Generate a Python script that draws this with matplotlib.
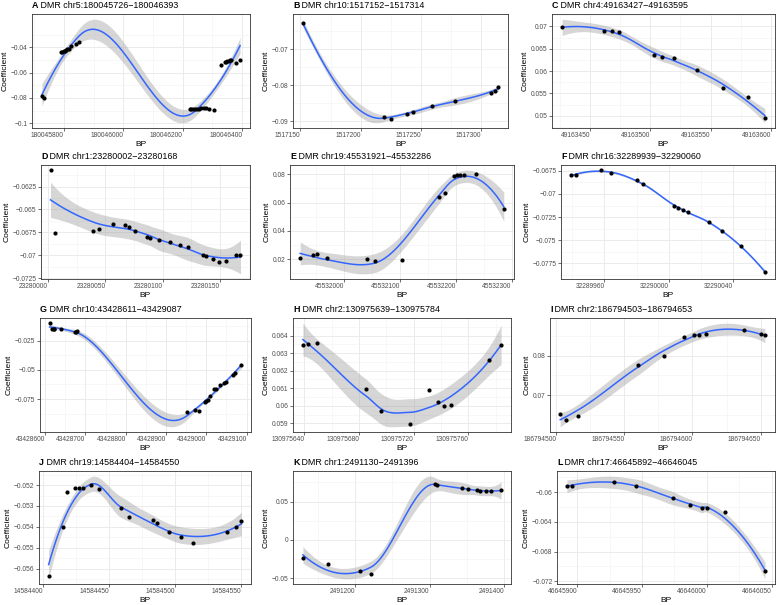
import numpy as np
import matplotlib
matplotlib.use("Agg")
import matplotlib.pyplot as plt
from matplotlib.transforms import offset_copy

plt.rcParams['font.family'] = ['Liberation Sans', 'DejaVu Sans']

# ---- data (CpG position, coefficient) ----
bp_a = [180045726, 180045732, 180045790, 180045795, 180045799, 180045804, 180045808, 180045812,
        180045817, 180045825, 180045842, 180045850, 180046223, 180046229, 180046236, 180046242,
        180046249, 180046256, 180046262, 180046271, 180046277, 180046288, 180046304, 180046330,
        180046341, 180046345, 180046349, 180046354, 180046358, 180046363, 180046379, 180046393]
coef_a = [-0.0788, -0.0798, -0.0441, -0.0436, -0.0431, -0.0426, -0.0420, -0.0415,
          -0.0410, -0.0392, -0.0374, -0.0357, -0.0888, -0.0888, -0.0888, -0.0885,
          -0.0885, -0.0885, -0.0883, -0.0883, -0.0883, -0.0885, -0.0893, -0.0543,
          -0.0520, -0.0515, -0.0510, -0.0505, -0.0502, -0.0500, -0.0523, -0.0500]

bp_b = [1517152, 1517219, 1517225, 1517238, 1517243, 1517259, 1517278, 1517308, 1517311, 1517314]
coef_b = [-0.0627, -0.0888, -0.0894, -0.0881, -0.0873, -0.0858, -0.0845, -0.0821, -0.0815, -0.0806]

bp_c = [49163427, 49163462, 49163468, 49163474, 49163503, 49163510, 49163520, 49163539,
        49163560, 49163581, 49163595]
coef_c = [0.0698, 0.0691, 0.0689, 0.0687, 0.0636, 0.0631, 0.0630, 0.0602, 0.0563, 0.0542, 0.0495]

bp_d = [23280002, 23280006, 23280039, 23280044, 23280057, 23280067, 23280071, 23280076,
        23280086, 23280089, 23280097, 23280106, 23280115, 23280122, 23280135, 23280138,
        23280144, 23280149, 23280155, 23280164, 23280168]
coef_d = [-0.0607, -0.0676, -0.0673, -0.0671, -0.0666, -0.0667, -0.0669, -0.0674,
          -0.0680, -0.0681, -0.0683, -0.0686, -0.0689, -0.0691, -0.0700, -0.0701,
          -0.0704, -0.0707, -0.0706, -0.0700, -0.0700]

bp_e = [45531921, 45531944, 45531952, 45531969, 45532040, 45532055, 45532104, 45532170,
        45532180, 45532197, 45532202, 45532208, 45532214, 45532236, 45532286]
coef_e = [0.0210, 0.0227, 0.0234, 0.0210, 0.0202, 0.0186, 0.0193, 0.0641,
          0.0665, 0.0788, 0.0793, 0.0795, 0.0795, 0.0802, 0.0552]

bp_f = [32289939, 32289942, 32289958, 32289964, 32289980, 32289984, 32290003, 32290006,
        32290009, 32290012, 32290025, 32290033, 32290045, 32290060]
coef_f = [-0.06798, -0.06794, -0.06743, -0.06768, -0.06853, -0.06887, -0.07126, -0.07156,
          -0.07174, -0.07200, -0.07303, -0.07396, -0.07562, -0.07850]

bp_g = [43428611, 43428617, 43428621, 43428622, 43428640, 43428673, 43428676, 43428679,
        43428953, 43428972, 43428981, 43428997, 43429000, 43429004, 43429008, 43429020,
        43429024, 43429034, 43429044, 43429049, 43429067, 43429070, 43429087]
coef_g = [-0.0101, -0.0150, -0.0152, -0.0147, -0.0155, -0.0177, -0.0174, -0.0169,
          -0.0864, -0.0845, -0.0851, -0.0772, -0.0766, -0.0761, -0.0720, -0.0666,
          -0.0660, -0.0633, -0.0611, -0.0601, -0.0541, -0.0530, -0.0457]

bp_h = [130975639, 130975643, 130975649, 130975685, 130975696, 130975717, 130975731,
        130975738, 130975742, 130975747, 130975775, 130975784]
coef_h = [0.06344, 0.06350, 0.06360, 0.06096, 0.05969, 0.05896, 0.06090,
          0.06019, 0.05998, 0.06006, 0.06260, 0.06348]

bp_i = [186794503, 186794507, 186794516, 186794560, 186794579, 186794594, 186794601,
        186794605, 186794610, 186794638, 186794650, 186794653]
coef_i = [0.0654, 0.0637, 0.0649, 0.0777, 0.0800, 0.0846, 0.0851,
          0.0853, 0.0856, 0.0864, 0.0854, 0.0851]

bp_j = [14584404, 14584415, 14584418, 14584424, 14584427, 14584430, 14584436, 14584442,
        14584459, 14584465, 14584483, 14584486, 14584495, 14584504, 14584513, 14584539,
        14584546, 14584550]
coef_j = [-0.05634, -0.05400, -0.05235, -0.05213, -0.05213, -0.05216, -0.05198, -0.05219,
          -0.05311, -0.05353, -0.05365, -0.05382, -0.05427, -0.05448, -0.05476, -0.05427,
          -0.05402, -0.05374]

bp_k = [2491130, 2491164, 2491207, 2491221, 2491307, 2491310, 2491343, 2491351,
        2491364, 2491368, 2491376, 2491382, 2491396]
coef_k = [-0.0234, -0.0312, -0.0404, -0.0448, 0.0723, 0.0718, 0.0675, 0.0662,
          0.0644, 0.0640, 0.0640, 0.0635, 0.0644]

bp_l = [46645892, 46645896, 46645928, 46645945, 46645974, 46645987, 46645996, 46646000,
        46646014, 46646045]
coef_l = [-0.05918, -0.05913, -0.05859, -0.05918, -0.06073, -0.06169, -0.06214, -0.06219,
          -0.06269, -0.07067]

letters = ['A', 'B', 'C', 'D', 'E', 'F', 'G', 'H', 'I', 'J', 'K', 'L']
regions = ['chr5:180045726\u2212180046393', 'chr10:1517152\u22121517314',
           'chr4:49163427\u221249163595', 'chr1:23280002\u221223280168',
           'chr19:45531921\u221245532286', 'chr16:32289939\u221232290060',
           'chr10:43428611\u221243429087', 'chr2:130975639\u2212130975784',
           'chr2:186794503\u2212186794653', 'chr19:14584404\u221214584550',
           'chr1:2491130\u22122491396', 'chr17:46645892\u221246646045']

x_breaks = [[180045800, 180046000, 180046200, 180046400],
            [1517150, 1517200, 1517250, 1517300],
            [49163450, 49163500, 49163550, 49163600],
            [23280000, 23280050, 23280100, 23280150],
            [45532000, 45532100, 45532200, 45532300],
            [32289960, 32290000, 32290040],
            [43428600, 43428700, 43428800, 43428900, 43429000, 43429100],
            [130975640, 130975680, 130975720, 130975760],
            [186794500, 186794550, 186794600, 186794650],
            [14584400, 14584450, 14584500, 14584550],
            [2491200, 2491300, 2491400],
            [46645900, 46645950, 46646000, 46646050]]
y_breaks = [[-0.1, -0.08, -0.06, -0.04],
            [-0.09, -0.08, -0.07, -0.06],
            [0.05, 0.055, 0.06, 0.065, 0.07],
            [-0.0725, -0.07, -0.0675, -0.065, -0.0625],
            [0.02, 0.04, 0.06, 0.08],
            [-0.0775, -0.075, -0.0725, -0.07, -0.0675],
            [-0.075, -0.05, -0.025],
            [0.059, 0.06, 0.061, 0.062, 0.063, 0.064],
            [0.07, 0.08],
            [-0.056, -0.055, -0.054, -0.053, -0.052],
            [-0.05, 0, 0.05],
            [-0.072, -0.068, -0.064, -0.06]]

panels = [(bp_a, coef_a), (bp_b, coef_b), (bp_c, coef_c), (bp_d, coef_d),
          (bp_e, coef_e), (bp_f, coef_f), (bp_g, coef_g), (bp_h, coef_h),
          (bp_i, coef_i), (bp_j, coef_j), (bp_k, coef_k), (bp_l, coef_l)]

# panel boxes in pixels: left, top, right, bottom
boxes = [(32, 14, 250, 128), (293, 14, 508, 128), (552, 14, 775, 128),
         (41, 165, 250, 279), (290, 165, 514, 279), (561, 165, 775, 279),
         (40, 318, 251, 432), (293, 318, 511, 432), (550, 318, 775, 432),
         (39, 471, 251, 584), (293, 471, 511, 584), (557, 471, 775, 584)]


# ---- loess (degree 2, span 0.75, kd-tree + cubic interpolation like R) ----
def local_rows(u, u0, q):
    d = np.abs(u - u0)
    h = np.sort(d)[q - 1]
    w = np.clip(1 - (d / h) ** 3, 0, None) ** 3
    X = np.column_stack([np.ones_like(u), u - u0, (u - u0) ** 2])
    XtW = X.T * w
    B = np.linalg.solve(XtW @ X, XtW)
    return B[0], B[1]


def kd_vertices(u, fc):
    lo, hi = u.min(), u.max()
    mu = 0.005 * (hi - lo)
    verts = [lo - mu, hi + mu]

    def split(pts, a, b):
        if len(pts) <= fc:
            return
        m = (len(pts) + 1) // 2
        v = pts[m - 1]
        if v == a or v == b:
            return
        verts.append(v)
        split(pts[:m], a, v)
        split(pts[m:], v, b)

    split(np.sort(u), lo - mu, hi + mu)
    return np.unique(verts)


def t975(df):
    z = 1.959963985
    g1 = (z**3 + z) / 4
    g2 = (5 * z**5 + 16 * z**3 + 3 * z) / 96
    g3 = (3 * z**7 + 19 * z**5 + 17 * z**3 - 15 * z) / 384
    g4 = (79 * z**9 + 776 * z**7 + 1482 * z**5 - 1920 * z**3 - 945 * z) / 92160
    return z + g1 / df + g2 / df**2 + g3 / df**3 + g4 / df**4


def loess_smooth(x, y, span=0.75, cell=0.2, n_out=80):
    x = np.asarray(x, float)
    y = np.asarray(y, float)
    n = len(x)
    x0, sc = x.min(), x.max() - x.min()
    u = (x - x0) / sc
    q = int(np.floor(n * span))
    fc = int(np.floor(n * span * cell))
    verts = kd_vertices(u, fc)
    vals, slps = [], []
    for v in verts:
        a, b = local_rows(u, v, q)
        vals.append(a)
        slps.append(b)
    vals = np.array(vals)
    slps = np.array(slps)

    def rows(t):
        i = np.clip(np.searchsorted(verts, t, side='right') - 1, 0, len(verts) - 2)
        v0, v1 = verts[i], verts[i + 1]
        h = v1 - v0
        s = (t - v0) / h
        p0 = (1 - s) ** 2 * (1 + 2 * s)
        p1 = s ** 2 * (3 - 2 * s)
        s0 = s * (1 - s) ** 2
        s1 = -s ** 2 * (1 - s)
        return (p0[:, None] * vals[i] + p1[:, None] * vals[i + 1]
                + h[:, None] * (s0[:, None] * slps[i] + s1[:, None] * slps[i + 1]))

    L = rows(u)
    res = y - L @ y
    IL = np.eye(n) - L
    M = IL.T @ IL
    d1 = np.trace(M)
    d2 = np.trace(M @ M)
    s = np.sqrt(np.sum(res ** 2) / d1)
    tq = t975(d1 ** 2 / d2)
    grid = np.linspace(0, 1, n_out)
    Lg = rows(grid)
    fit = Lg @ y
    se = s * np.sqrt(np.sum(Lg ** 2, axis=1))
    return x0 + grid * sc, fit, fit - tq * se, fit + tq * se


def num_label(v):
    s = f"{v:.6g}"
    return s.replace('-', '\u2212')


W, H = 778, 605
fig = plt.figure(figsize=(W / 100, H / 100), dpi=100)

for k, ((bx, cy), (l, t, r, b)) in enumerate(zip(panels, boxes)):
    ax = fig.add_axes([l / W, 1 - b / H, (r - l) / W, (b - t) / H])
    gx, fit, lo, hi = loess_smooth(bx, cy)

    ax.fill_between(gx, lo, hi, color='#999999', alpha=0.4, lw=0, zorder=2)
    ax.plot(gx, fit, color='#3366FF', lw=1.1, zorder=3)
    ax.scatter(bx, cy, s=9, color='black', lw=0, zorder=4)

    xr = max(bx) - min(bx)
    ax.set_xlim(min(bx) - 0.05 * xr, max(bx) + 0.05 * xr)
    ylo = min(min(cy), lo.min())
    yhi = max(max(cy), hi.max())
    yr = yhi - ylo
    ax.set_ylim(ylo - 0.05 * yr, yhi + 0.05 * yr)

    xmin, xmax = ax.get_xlim()
    ymin, ymax = ax.get_ylim()
    xt = [v for v in x_breaks[k] if xmin <= v <= xmax]
    yt = [v for v in y_breaks[k] if ymin <= v <= ymax]
    ax.set_xticks(xt)
    ax.set_xticklabels([str(v) for v in xt], ha='right')
    ax.set_yticks(yt)
    ax.set_yticklabels([num_label(v) for v in yt])

    xs = x_breaks[k][1] - x_breaks[k][0]
    ys = y_breaks[k][1] - y_breaks[k][0]
    xm = [v + xs / 2 for v in [x_breaks[k][0] - xs] + x_breaks[k]]
    ym = [v + ys / 2 for v in [y_breaks[k][0] - ys] + y_breaks[k]]
    ax.set_xticks([v for v in xm if xmin <= v <= xmax], minor=True)
    ax.set_yticks([v for v in ym if ymin <= v <= ymax], minor=True)

    ax.grid(True, which='major', color='#EBEBEB', lw=0.7, zorder=0)
    ax.grid(True, which='minor', color='#F2F2F2', lw=0.4, zorder=0)
    ax.set_axisbelow(True)
    for sp in ax.spines.values():
        sp.set_color('#333333')
        sp.set_linewidth(0.6)
    ax.tick_params(which='major', direction='out', length=2, width=0.5, color='#333333',
                   labelsize=4.8, labelcolor='#4D4D4D', pad=1.2)
    ax.tick_params(which='minor', length=0)

    ax.set_xlabel('BP', fontsize=6, labelpad=1)
    ax.set_ylabel('Coefficient', fontsize=6.1, labelpad=1.5)

    tr = offset_copy(ax.transAxes, fig=fig, x=0, y=3, units='points')
    t1 = ax.text(0, 1, letters[k], transform=tr, fontsize=6.4, fontweight='bold',
                 ha='left', va='bottom')
    ax.annotate(' DMR ' + regions[k], xy=(1, 0), xycoords=t1, fontsize=6.4,
                ha='left', va='bottom')

fig.savefig('out.png', dpi=100)
